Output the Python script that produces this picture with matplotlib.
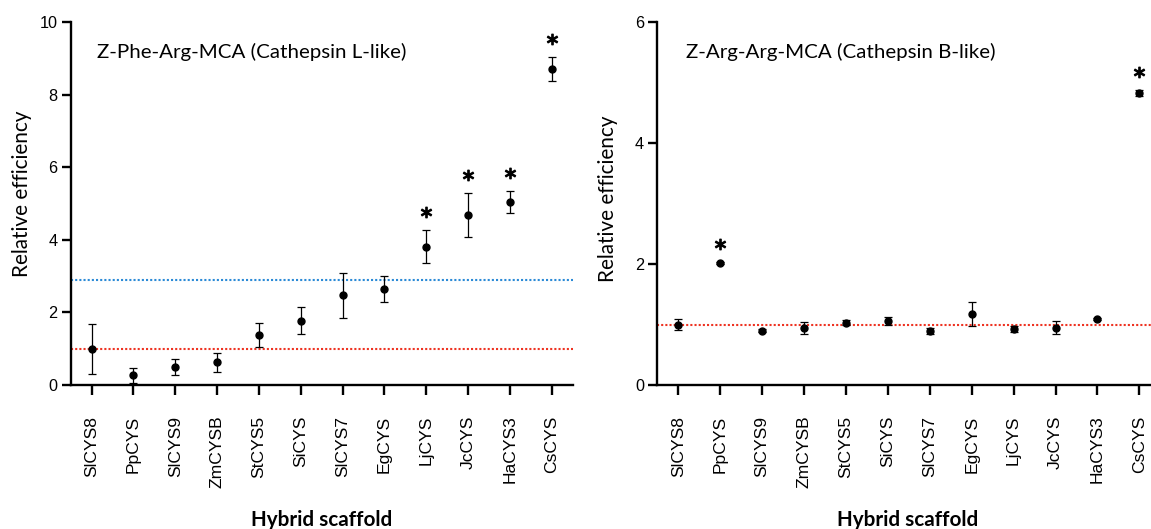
import matplotlib
matplotlib.use("Agg")
import matplotlib.pyplot as plt
from matplotlib.transforms import ScaledTranslation
import numpy as np

# ---------------- data ----------------
categories = ["SlCYS8", "PpCYS", "SlCYS9", "ZmCYSB", "StCYS5", "SiCYS",
              "SlCYS7", "EgCYS", "LjCYS", "JcCYS", "HaCYS3", "CsCYS"]

phe_mean = [1.00, 0.27, 0.49, 0.62, 1.39, 1.77, 2.47, 2.65, 3.81, 4.69, 5.04, 8.70]
phe_err = [0.69, 0.21, 0.22, 0.27, 0.33, 0.37, 0.62, 0.35, 0.45, 0.60, 0.30, 0.33]
phe_sig = [False, False, False, False, False, False, False, False, True, True, True, True]

arg_mean = [1.00, 2.02, 0.90, 0.94, 1.03, 1.06, 0.89, 1.18, 0.92, 0.95, 1.09, 4.83]
arg_err = [0.09, 0.02, 0.03, 0.10, 0.04, 0.06, 0.05, 0.20, 0.05, 0.11, 0.02, 0.05]
arg_sig = [False, True, False, False, False, False, False, False, False, False, False, True]

baseline_level = 1.0
phe_threshold = 2.89

phe_title = "Z-Phe-Arg-MCA (Cathepsin L-like)"
arg_title = "Z-Arg-Arg-MCA (Cathepsin B-like)"
ylabel_text = "Relative efficiency"
xlabel_text = "Hybrid scaffold"

phe_yticks = [0, 2, 4, 6, 8, 10]
arg_yticks = [0, 2, 4, 6]

# ---------------- style ----------------
W, H = 1151, 529
DPI = 100
TEXT_FONT = ["Lato", "DejaVu Sans"]
TICK_FONT = ["Liberation Sans", "DejaVu Sans"]
RED = "#ee3322"
BLUE = "#2b8ad6"

fig = plt.figure(figsize=(W / DPI, H / DPI), dpi=DPI)
renderer = fig.canvas.get_renderer()


def fit_size(s, target_px, family, weight="normal"):
    t = fig.text(0, 0, s, fontsize=10, family=family, weight=weight)
    w = t.get_window_extent(renderer).width
    t.remove()
    return 10 * target_px / w


title_fs = fit_size(phe_title, 308, TEXT_FONT)
ylabel_fs = fit_size(ylabel_text, 167, TEXT_FONT)
xlabel_fs = fit_size(xlabel_text, 142, TEXT_FONT, "bold")
cat_fs = fit_size("HaCYS3", 68, TICK_FONT)
num_fs = fit_size("10", 18, TICK_FONT)


def px_rect(x0, y0, x1, y1):
    return [x0 / W, 1 - y1 / H, (x1 - x0) / W, (y1 - y0) / H]


ax1 = fig.add_axes(px_rect(70.7, 22, 572.7, 385))
ax2 = fig.add_axes(px_rect(657.3, 22, 1160.3, 385))

star_offset = ScaledTranslation(0, 18 / DPI, fig.dpi_scale_trans)


def draw_panel(ax, mean, err, sig, ymax, yticks, lines):
    x = np.arange(len(categories))
    for level, color in lines:
        ax.axhline(level, color=color, lw=1.5, ls=(0, (1, 1)), zorder=1)
    ax.errorbar(x, mean, yerr=err, fmt="o", color="black", ms=5,
                elinewidth=0.9, capsize=2.7, capthick=0.9, zorder=3)
    mean_a = np.array(mean)
    err_a = np.array(err)
    sig_a = np.array(sig)
    ax.plot(x[sig_a], (mean_a + err_a)[sig_a], ls="none", marker="$*$",
            ms=7.5, color="black", transform=ax.transData + star_offset,
            clip_on=False, zorder=4)
    ax.set_xlim(-0.5, len(categories) - 0.5)
    ax.set_ylim(0, ymax)
    ax.set_yticks(yticks)
    ax.set_xticks(x)
    ax.set_xticklabels(categories, rotation=90, fontsize=cat_fs, family=TICK_FONT)
    ax.set_yticklabels([str(v) for v in yticks], fontsize=num_fs, family=TICK_FONT)
    for s in ["top", "right"]:
        ax.spines[s].set_visible(False)
    for s in ["left", "bottom"]:
        ax.spines[s].set_linewidth(1.7)
    ax.tick_params(axis="x", length=7, width=1.7, pad=15)
    ax.tick_params(axis="y", length=6.3, width=1.7, pad=3.2)
    ax.patch.set_alpha(0)


draw_panel(ax1, phe_mean, phe_err, phe_sig, 10, phe_yticks,
           [(phe_threshold, BLUE), (baseline_level, RED)])
draw_panel(ax2, arg_mean, arg_err, arg_sig, 6, arg_yticks,
           [(baseline_level, RED)])

# titles inside panels
fig.text(97.3 / W, 1 - 51.7 / H, phe_title, fontsize=title_fs, family=TEXT_FONT,
         ha="left", va="center")
fig.text(686 / W, 1 - 51.7 / H, arg_title, fontsize=title_fs, family=TEXT_FONT,
         ha="left", va="center")

# y labels
fig.text(22 / W, 1 - 194 / H, ylabel_text, rotation=90, fontsize=ylabel_fs,
         family=TEXT_FONT, ha="center", va="center")
fig.text(608 / W, 1 - 199 / H, ylabel_text, rotation=90, fontsize=ylabel_fs,
         family=TEXT_FONT, ha="center", va="center")

# x labels
fig.text(321.7 / W, 1 - 520 / H, xlabel_text, fontsize=xlabel_fs, family=TEXT_FONT,
         weight="bold", ha="center", va="center")
fig.text(908 / W, 1 - 520 / H, xlabel_text, fontsize=xlabel_fs, family=TEXT_FONT,
         weight="bold", ha="center", va="center")

fig.savefig("out.png", dpi=DPI, facecolor="white")
